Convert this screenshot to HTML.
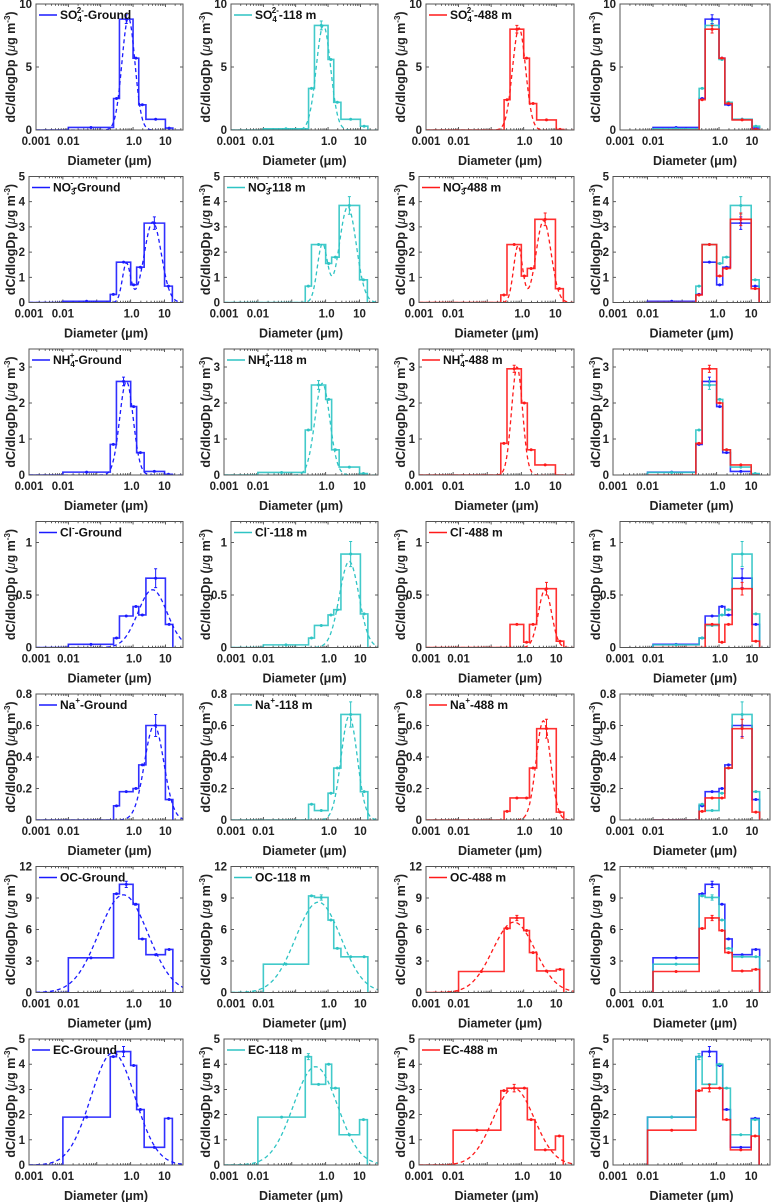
<!DOCTYPE html>
<html><head><meta charset="utf-8"><style>
html,body{margin:0;padding:0;background:#fff;}
svg{display:block;font-family:"Liberation Sans",sans-serif;font-weight:bold;}
</style></head>
<body>
<svg id="fig" width="772" height="1202" viewBox="0 0 772 1202" xmlns="http://www.w3.org/2000/svg"></svg>
<script>
// ---- data ----
const binEdges=[0.01,0.25,0.38,1.0,1.5,2.5,10,17];
const xTickValues=[0.001,0.01,1,10];
const xTickLabels=["0.001","0.01","1.0","10"];
const sites=["Ground","118 m","488 m"];
const speciesNames=["SO4","NO3","NH4","Cl","Na","OC","EC"];
const yMax=[10,5,3.5,1.2,0.8,12,5];
const yTicks=[[0,5,10],[0,1,2,3,4,5],[0,1,2,3],[0,0.5,1],[0,0.2,0.4,0.6,0.8],[0,3,6,9,12],[0,1,2,3,4,5]];
const yTickLabels=[["0","5","10"],["0","1","2","3","4","5"],["0","1","2","3"],["0","0.5","1"],["0","0.2","0.4","0.6","0.8"],["0","3","6","9","12"],["0","1","2","3","4","5"]];

const so4Ground=[0.2,2.5,8.8,5.7,2.0,0.85,0.15];
const so4M118=[0.1,3.3,8.3,5.6,2.2,0.85,0.3];
const so4M488=[0,2.4,8.0,5.7,2.1,0.8,0.05];
const no3Ground=[0.05,0.32,1.6,0.7,1.4,3.15,0.65];
const no3M118=[0,0.65,2.3,1.55,1.8,3.85,0.9];
const no3M488=[0,0.3,2.3,1.05,1.35,3.3,0.55];
const nh4Ground=[0.08,0.85,2.6,1.9,0.62,0.1,0.02];
const nh4M118=[0.07,1.25,2.5,2.1,0.7,0.22,0.04];
const nh4M488=[0,0.88,2.95,2.0,0.7,0.28,0];
const clGround=[0.03,0.09,0.3,0.39,0.31,0.66,0.22];
const clM118=[0.025,0.09,0.21,0.31,0.36,0.89,0.32];
const clM488=[0,0,0.22,0.05,0.22,0.56,0.06];
const naGround=[0,0.09,0.18,0.2,0.35,0.6,0.13];
const naM118=[0,0.1,0.06,0.17,0.33,0.67,0.18];
const naM488=[0,0.055,0.14,0.14,0.33,0.58,0.05];
const ocGround=[3.3,9.4,10.3,8.4,5.1,3.6,4.1];
const ocM118=[2.7,9.2,9.05,6.9,4.2,3.4,3.4];
const ocM488=[2.0,6.1,7.1,5.9,3.8,2.05,2.2];
const ecGround=[1.9,4.3,4.5,3.95,2.2,0.7,1.85];
const ecM118=[1.9,4.3,3.2,4.0,3.05,1.2,1.8];
const ecM488=[1.38,2.95,3.05,3.05,1.8,0.6,1.15];

// peak error bars: [bin index, half-width]
const so4Err=[[2,0.35],[2,0.35],[2,0.3]];
const no3Err=[[5,0.25],[5,0.35],[5,0.25]];
const nh4Err=[[2,0.12],[2,0.12],[2,0.1]];
const clErr=[[5,0.09],[5,0.12],[5,0.06]];
const naErr=[[5,0.07],[5,0.08],[5,0.06]];
const ocErr=[[2,0.3],[2,0.25],[2,0.25]];
const ecErr=[[2,0.2],[1,0.12],[2,0.15]];

// lognormal fit modes: [amplitude, geometric mean diameter, log10 sigma]
const so4Fit=[[[8.9,0.72,0.2]],[[8.3,0.72,0.22]],[[8.1,0.72,0.2]]];
const no3Fit=[[[1.55,0.75,0.12],[3.2,4.5,0.25]],[[2.3,0.8,0.15],[3.8,4.5,0.25]],[[2.25,0.8,0.13],[3.25,4.5,0.22]]];
const nh4Fit=[[[2.6,0.75,0.2]],[[2.55,0.8,0.22]],[[3.0,0.75,0.16]]];
const clFit=[[[0.55,4,0.45]],[[0.82,4.5,0.3]],[[0.55,4.5,0.2]]];
const naFit=[[[0.6,4.5,0.3]],[[0.66,4.5,0.25]],[[0.63,4,0.22]]];
const ocFit=[[[9.3,0.5,0.76]],[[8.6,0.5,0.7]],[[6.7,0.5,0.65]]];
const ecFit=[[[4.45,0.3,0.65]],[[3.9,0.5,0.65]],[[3.05,0.6,0.6]]];

const allSeries=[[so4Ground,so4M118,so4M488],[no3Ground,no3M118,no3M488],[nh4Ground,nh4M118,nh4M488],[clGround,clM118,clM488],[naGround,naM118,naM488],[ocGround,ocM118,ocM488],[ecGround,ecM118,ecM488]];
const allErr=[so4Err,no3Err,nh4Err,clErr,naErr,ocErr,ecErr];
const allFit=[so4Fit,no3Fit,nh4Fit,clFit,naFit,ocFit,ecFit];

// ---- layout ----
const colors=["#1a1aff","#2ec4c4","#ff1a1a"];
const XMIN=0.001,XMAX=35;
const NS="http://www.w3.org/2000/svg";
const svg=document.getElementById("fig");
function mk(tag,attrs,parent){const e=document.createElementNS(NS,tag);for(const k in attrs)e.setAttribute(k,attrs[k]);(parent||svg).appendChild(e);return e;}
function xs(v,L,R){return L+(Math.log10(v)-Math.log10(XMIN))/(Math.log10(XMAX)-Math.log10(XMIN))*(R-L);}
function ys(v,T,B,ym){return B-(v/ym)*(B-T);}
const wideRows=[0,3,4,5];
const rights=[183,378,574,770];
const ylabX=[11,206,401,596];

function legendLabel(t,r,site){
  const sp=speciesNames[r];
  const base={SO4:"SO",NO3:"NO",NH4:"NH",Cl:"Cl",Na:"Na",OC:"OC",EC:"EC"}[sp];
  const sub={SO4:"4",NO3:"3",NH4:"4"}[sp];
  const sup={SO4:"2-",NO3:"-",NH4:"+",Cl:"-",Na:"+"}[sp];
  t.appendChild(document.createTextNode(base));
  if(sub){const s=mk("tspan",{dy:"3","font-size":"8"},t);s.textContent=sub;}
  if(sup){const s=mk("tspan",{dx:sub?"-5":"0",dy:sub?"-9":"-6","font-size":"8"},t);s.textContent=sup;}
  const rest=mk("tspan",{dy:sub&&sup?"6":(sup?"6":(sub?"-3":"0"))},t);rest.textContent="-"+site;
}

for(let r=0;r<7;r++){
  const T=4+172.5*r, B=T+126, ym=yMax[r];
  const lefts=wideRows.includes(r)?[36,231,426,620]:[29,224,419,613];
  for(let c=0;c<4;c++){
    const L=lefts[c], R=rights[c];
    const g=mk("g",{});
    
    
    const cid="clip"+r+"_"+c;
    const cp=mk("clipPath",{id:cid},g);
    mk("rect",{x:L,y:T,width:R-L,height:B-T},cp);
    // ticks
    const ax=mk("g",{stroke:"#333","stroke-width":"0.8"},g);
    
    
    for(let d=-3;d<=1;d++){for(let m=1;m<=9;m++){const v=m*Math.pow(10,d);if(v<XMIN||v>XMAX)continue;const x=xs(v,L,R);const len=m===1?3:1.8;
      mk("line",{x1:x,y1:B,x2:x,y2:B-len},ax);mk("line",{x1:x,y1:T,x2:x,y2:T+len},ax);}}
    yTicks[r].forEach(v=>{const y=ys(v,T,B,ym);mk("line",{x1:L,y1:y,x2:L+3,y2:y},ax);mk("line",{x1:R,y1:y,x2:R-3,y2:y},ax);});
    // tick labels
    yTicks[r].forEach((v,i)=>{const t=mk("text",{x:L-4,y:ys(v,T,B,ym)+4,"text-anchor":"end","font-size":"11.5",fill:"#222"},g);
      
      
      t.textContent=yTickLabels[r][i];});
    xTickValues.forEach((v,i)=>{const t=mk("text",{x:xs(v,L,R)+(i===2?1:0),y:B+15,"text-anchor":"middle","font-size":"11.5",fill:"#222"},g);
      
      
      t.textContent=xTickLabels[i];});
    const xl=mk("text",{x:(L+R)/2,y:B+35,"text-anchor":"middle","font-size":"12.5",fill:"#222"},g);
    
    
    xl.textContent="Diameter (μm)";
    const yl=mk("text",{x:0,y:0,"text-anchor":"middle","font-size":"12.5",fill:"#222",transform:"translate("+(ylabX[c]+4)+","+((T+B)/2)+") rotate(-90)"},g);
    
    
    yl.appendChild(document.createTextNode("dC/dlogDp ("));
    const mu=mk("tspan",{"font-style":"italic","font-weight":"normal"},yl);mu.textContent="μ";
    const rest=mk("tspan",{},yl);rest.textContent="g m";
    const sup=mk("tspan",{dy:"-5","font-size":"8"},yl);sup.textContent="-3";
    const cl=mk("tspan",{dy:"5"},yl);cl.textContent=")";
    // series
    const list=c<3?[c]:[0,1,2];
    const plot=mk("g",{"clip-path":"url(#"+cid+")"},g);
    list.forEach(s=>{
      const vals=allSeries[r][s], col=colors[s];
      // fit curve
      if(c<3){let dstr="";const fit=allFit[r][s];
        for(let k=0;k<=160;k++){const lv=Math.log10(XMIN)+k/160*(Math.log10(XMAX)-Math.log10(XMIN));const v=Math.pow(10,lv);
          let yv=0;fit.forEach(m=>{const z=Math.log10(v/m[1]);yv+=m[0]*Math.exp(-z*z/(2*m[2]*m[2]));});
          dstr+=(k?"L":"M")+xs(v,L,R).toFixed(2)+" "+ys(yv,T,B,ym).toFixed(2);}
        const fp=mk("path",{d:dstr,fill:"none",stroke:col,"stroke-width":"1.3","stroke-dasharray":"4,3"},plot);
        
        }
      // step
      let d="";
      if(c<3)d+="M"+xs(XMIN,L,R)+" "+B+"L"+xs(binEdges[0],L,R)+" "+B;else d+="M"+xs(binEdges[0],L,R)+" "+B;
      vals.forEach((v,i)=>{const y=ys(v,T,B,ym);d+="L"+xs(binEdges[i],L,R)+" "+y+"L"+xs(binEdges[i+1],L,R)+" "+y;});
      d+="L"+xs(binEdges[binEdges.length-1],L,R)+" "+B;
      const sp=mk("path",{d:d,fill:"none",stroke:col,"stroke-width":"1.6","stroke-opacity":"0.9"},plot);
      
      
      // points
      vals.forEach((v,i)=>{if(v<=0)return;const cx=xs(Math.sqrt(binEdges[i]*binEdges[i+1]),L,R);
        const pt=mk("circle",{cx:cx,cy:ys(v,T,B,ym),r:"1.5",fill:col},plot);
        
        });
      const eb=allErr[r][s];const bi=eb[0],ev=eb[1];const v=vals[bi];
      const cx=xs(Math.sqrt(binEdges[bi]*binEdges[bi+1]),L,R);
      const y1=ys(v+ev,T,B,ym),y2=ys(v-ev,T,B,ym);
      const er=mk("path",{d:"M"+cx+" "+y1+"L"+cx+" "+y2+"M"+(cx-1.5)+" "+y1+"L"+(cx+1.5)+" "+y1+"M"+(cx-1.5)+" "+y2+"L"+(cx+1.5)+" "+y2,stroke:col,"stroke-width":"1",fill:"none"},plot);
      
      
    });
    // frame
    const fr=mk("rect",{x:L,y:T,width:R-L,height:B-T,fill:"none",stroke:"#555","stroke-width":"1"},g);
    
    
    // legend
    if(c<3){
      const lg=mk("g",{},g);
      
      
      mk("line",{x1:L+3,y1:T+11,x2:L+21,y2:T+11,stroke:colors[c],"stroke-width":"1.6"},lg);
      const t=mk("text",{x:L+24,y:T+15,"font-size":"12",fill:"#111"},lg);
      legendLabel(t,r,sites[c]);
    }
  }
}
</script>
</body></html>
